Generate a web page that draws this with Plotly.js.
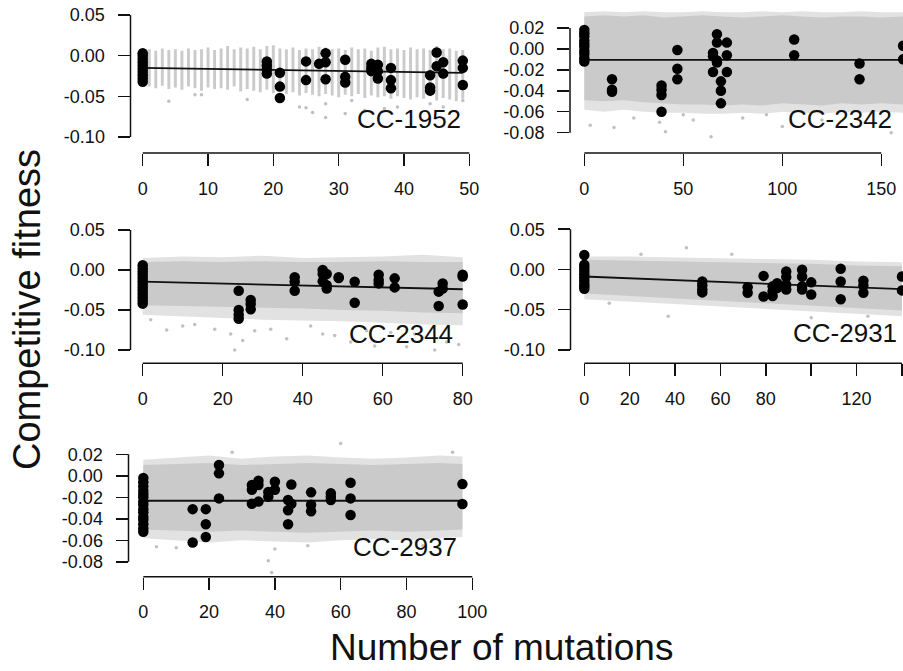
<!DOCTYPE html>
<html><head><meta charset="utf-8">
<script src="https://cdn.plot.ly/plotly-3.0.1.min.js"></script>
<style>html,body{margin:0;padding:0;background:#fff}#chart{width:903px;height:671px}</style>
</head><body><div id="chart"></div><script>
// ---------------- DATA ----------------
var panelNames = ["CC-1952", "CC-2342", "CC-2344", "CC-2931", "CC-2937"];

// CC-1952: simulated values appear as vertical strips at each integer mutation count
var s1X   = [1,2,3,4,5,6,7,8,9,10,11,12,13,14,15,16,17,18,19,20,21,22,23,24,25,26,27,28,29,30,31,32,33,34,35,36,37,38,39,40,41,42,43,44,45,46,47,48,49];
var s1Top = [0.008,0.006,0.009,0.007,0.008,0.006,0.009,0.007,0.008,0.010,0.007,0.009,0.012,0.008,0.010,0.009,0.011,0.008,0.012,0.013,0.009,0.008,0.010,0.007,0.009,0.008,0.011,0.010,0.008,0.009,0.007,0.010,0.008,0.009,0.006,0.010,0.011,0.008,0.009,0.007,0.010,0.008,0.009,0.007,0.012,0.008,0.009,0.006,0.007];
var s1Bot = [-0.038,-0.040,-0.037,-0.041,-0.039,-0.042,-0.038,-0.040,-0.043,-0.039,-0.041,-0.040,-0.042,-0.038,-0.044,-0.041,-0.043,-0.045,-0.042,-0.046,-0.044,-0.047,-0.045,-0.049,-0.046,-0.048,-0.050,-0.047,-0.049,-0.051,-0.048,-0.050,-0.047,-0.052,-0.049,-0.051,-0.050,-0.053,-0.050,-0.052,-0.054,-0.051,-0.053,-0.050,-0.055,-0.052,-0.054,-0.056,-0.053];
var o1X = [4,8,9,16,24,25,26,28,28,31,32,34,37,39,44,46,49];
var o1Y = [-0.056,-0.048,-0.048,-0.054,-0.063,-0.064,-0.070,-0.076,-0.059,-0.071,-0.055,-0.067,-0.065,-0.063,-0.059,-0.063,-0.055];

// CC-2342 simulated cloud envelope
var b2X        = [0,10,20,30,40,50,60,70,80,90,100,110,120,130,140,150,161];
var b2CoreTop  = [0.031,0.032,0.031,0.032,0.030,0.031,0.032,0.031,0.030,0.031,0.032,0.031,0.030,0.031,0.031,0.030,0.031];
var b2OuterTop = [0.035,0.036,0.035,0.036,0.035,0.035,0.036,0.035,0.035,0.036,0.035,0.036,0.035,0.035,0.036,0.035,0.035];
var b2CoreBot  = [-0.049,-0.050,-0.049,-0.051,-0.052,-0.053,-0.053,-0.054,-0.053,-0.054,-0.052,-0.053,-0.054,-0.052,-0.053,-0.052,-0.053];
var b2OuterBot = [-0.058,-0.060,-0.058,-0.060,-0.061,-0.061,-0.062,-0.062,-0.061,-0.062,-0.060,-0.061,-0.062,-0.060,-0.061,-0.060,-0.061];
var o2X = [3,15,25,38,41,50,55,64,80,92,100,120,155];
var o2Y = [-0.073,-0.075,-0.066,-0.070,-0.079,-0.063,-0.068,-0.084,-0.066,-0.063,-0.074,-0.068,-0.080];

// CC-2344 simulated cloud envelope
var b3X        = [0,10,20,30,40,50,60,70,80];
var b3CoreTop  = [0.010,0.011,0.010,0.011,0.010,0.010,0.011,0.010,0.010];
var b3OuterTop = [0.015,0.017,0.016,0.018,0.015,0.016,0.017,0.019,0.016];
var b3CoreBot  = [-0.044,-0.045,-0.046,-0.047,-0.048,-0.050,-0.051,-0.053,-0.054];
var b3OuterBot = [-0.056,-0.058,-0.060,-0.062,-0.063,-0.064,-0.066,-0.068,-0.069];
var o3X = [2,6,10,13,18,22,23,25,28,32,36,42,45,48,52,56,58,62,66,68,70,73,76,79];
var o3Y = [-0.062,-0.075,-0.070,-0.068,-0.074,-0.080,-0.100,-0.088,-0.076,-0.074,-0.086,-0.070,-0.080,-0.082,-0.090,-0.076,-0.095,-0.078,-0.096,-0.080,-0.085,-0.100,-0.090,-0.093];

// CC-2931 simulated cloud envelope
var b4X        = [0,20,40,60,80,100,120,140];
var b4CoreTop  = [0.012,0.011,0.010,0.009,0.008,0.007,0.005,0.004];
var b4OuterTop = [0.016,0.016,0.015,0.014,0.013,0.012,0.010,0.009];
var b4CoreBot  = [-0.030,-0.033,-0.036,-0.039,-0.042,-0.045,-0.048,-0.051];
var b4OuterBot = [-0.037,-0.040,-0.043,-0.046,-0.049,-0.052,-0.055,-0.058];
var o4X = [11,25,37,45,65,100,125];
var o4Y = [-0.042,0.019,-0.058,0.027,0.019,-0.060,-0.058];

// CC-2937 simulated cloud envelope
var b5X        = [0,10,20,30,40,50,60,70,80,90,97];
var b5CoreTop  = [0.010,0.011,0.012,0.010,0.011,0.012,0.011,0.010,0.011,0.012,0.011];
var b5OuterTop = [0.015,0.017,0.019,0.016,0.018,0.019,0.017,0.016,0.017,0.019,0.018];
var b5CoreBot  = [-0.050,-0.051,-0.052,-0.051,-0.052,-0.053,-0.052,-0.051,-0.052,-0.051,-0.050];
var b5OuterBot = [-0.058,-0.060,-0.062,-0.060,-0.061,-0.062,-0.060,-0.059,-0.060,-0.058,-0.057];
var o5X = [4,10,27,38,39,40,50,60,85,94];
var o5Y = [-0.066,-0.067,0.022,-0.079,-0.090,-0.068,-0.065,0.030,-0.065,0.022];

// Observed lines (black points)
var p1X = [0,0,0,0,0,0,0,0,0,0, 19,19,19,19, 21,21,21, 25,25, 27, 28,28,28, 31,31,31, 35,35,35, 36,36,36, 38,38,38, 44,44,44, 45,45, 46,46, 49,49,49];
var p1Y = [0.003,0.000,-0.004,-0.008,-0.012,-0.016,-0.020,-0.024,-0.028,-0.032, -0.007,-0.012,-0.017,-0.022, -0.021,-0.038,-0.052, -0.007,-0.030, -0.010, 0.003,-0.008,-0.029, -0.005,-0.026,-0.033, -0.010,-0.015,-0.019, -0.011,-0.019,-0.028, -0.015,-0.030,-0.040, -0.024,-0.039,-0.043, 0.004,-0.013, -0.008,-0.022, -0.006,-0.015,-0.036];

var p2X = [0,0,0,0,0,0,0,0,0,0, 14,14,14, 39,39,39,39, 47,47,47, 65,65,65, 67,67,67,67, 69,69,69, 72,72,72, 106,106, 139,139, 161,161];
var p2Y = [0.018,0.015,0.012,0.008,0.005,0.002,-0.002,-0.005,-0.009,-0.012, -0.029,-0.039,-0.041, -0.035,-0.039,-0.044,-0.060, -0.001,-0.019,-0.029, -0.004,-0.007,-0.022, 0.014,0.006,-0.011,-0.013, -0.031,-0.040,-0.052, 0.006,-0.006,-0.022, 0.009,-0.006, -0.014,-0.029, 0.003,-0.010];

var p3X = [0,0,0,0,0,0,0,0,0,0,0,0,0, 24,24,24,24, 27,27,27, 38,38,38, 45,45,45, 46,46,46, 49,49, 53,53, 59,59,59, 63,63, 74,74, 75,75, 80,80,80];
var p3Y = [0.006,0.002,-0.002,-0.006,-0.010,-0.014,-0.018,-0.022,-0.026,-0.030,-0.034,-0.038,-0.042, -0.026,-0.050,-0.056,-0.061, -0.0375,-0.0425,-0.049, -0.009,-0.0146,-0.026, 0.000,-0.005,-0.014, -0.005,-0.019,-0.023, -0.009,-0.010, -0.0146,-0.041, -0.006,-0.0125,-0.0167, -0.0104,-0.0217, -0.027,-0.045, -0.0167,-0.023, -0.006,-0.008,-0.043];

var p4X = [0,0,0,0,0,0,0,0,0,0, 52,52,52,52, 72,72, 79,79, 83,83,83, 85,85, 89,89,89,89, 96,96,96,96, 100,100, 113,113,113, 123,123,123, 140,140];
var p4Y = [0.018,0.006,0.002,-0.002,-0.006,-0.010,-0.014,-0.018,-0.021,-0.024, -0.015,-0.020,-0.025,-0.0285, -0.022,-0.029, -0.008,-0.0335, -0.021,-0.027,-0.033, -0.017,-0.023, -0.0025,-0.0095,-0.019,-0.025, -0.0004,-0.0087,-0.021,-0.025, -0.016,-0.031, 0.001,-0.015,-0.037, -0.014,-0.020,-0.029, -0.0087,-0.026];

var p5X = [0,0,0,0,0,0,0,0,0,0,0,0,0,0,0, 15,15, 19,19,19, 23,23,23, 33,33,33, 35,35,35, 38,38, 40,40, 44,44,44, 45,45, 51,51,51, 57,57,57, 63,63,63, 97,97];
var p5Y = [-0.002,-0.006,-0.010,-0.014,-0.017,-0.020,-0.024,-0.027,-0.031,-0.034,-0.038,-0.041,-0.045,-0.049,-0.052, -0.031,-0.062, -0.031,-0.045,-0.057, 0.010,0.0023,-0.021, -0.0086,-0.013,-0.026, -0.0045,-0.0086,-0.024, -0.015,-0.0194, -0.0055,-0.013, -0.0225,-0.032,-0.045, -0.008,-0.026, -0.0154,-0.027,-0.033, -0.0163,-0.0194,-0.0225, -0.0064,-0.021,-0.0365, -0.0077,-0.0263];

// Regression line endpoints
var f1X = [0,49],  f1Y = [-0.015,-0.021];
var f2X = [0,161], f2Y = [-0.0105,-0.0105];
var f3X = [0,80],  f3Y = [-0.0146,-0.024];
var f4X = [0,140], f4Y = [-0.0087,-0.0244];
var f5X = [0,97],  f5Y = [-0.0232,-0.0232];

// Tick values / labels
var xt1 = [0,10,20,30,40,50],            xl1 = ["0","10","20","30","40","50"];
var xt2 = [0,50,100,150],                xl2 = ["0","50","100","150"];
var xt3 = [0,20,40,60,80],               xl3 = ["0","20","40","60","80"];
var xt4 = [0,20,40,60,80,100,120,140],   xl4 = ["0","20","40","60","80","","120",""];
var xt5 = [0,20,40,60,80,100],           xl5 = ["0","20","40","60","80","100"];
var ytA = [0.05,0,-0.05,-0.10],          ylA = ["0.05","0.00","-0.05","-0.10"];
var ytB = [0.02,0,-0.02,-0.04,-0.06,-0.08], ylB = ["0.02","0.00","-0.02","-0.04","-0.06","-0.08"];

// ---------------- LAYOUT HELPERS ----------------
var W = 903, H = 671;
var FONT = "Liberation Sans, Arial, Helvetica, sans-serif";
function px(v){ return v / W; }
function py(v){ return 1 - v / H; }

var GREY = "#cacaca", GREY_OUT = "#e2e2e2", GREY_PT = "#c0c0c0";

var traces = [];
function band(ax, ay, xs, top, bot, color){
  var xx = xs.concat(xs.slice().reverse());
  var yy = top.concat(bot.slice().reverse());
  traces.push({type:"scatter", mode:"lines", x:xx, y:yy, fill:"toself", fillcolor:color,
    line:{width:0, color:color}, xaxis:ax, yaxis:ay, hoverinfo:"skip"});
}
function outl(ax, ay, xs, ys){
  traces.push({type:"scatter", mode:"markers", x:xs, y:ys, xaxis:ax, yaxis:ay,
    marker:{size:3.5, color:GREY_PT}, hoverinfo:"skip"});
}
function fit(ax, ay, xs, ys){
  traces.push({type:"scatter", mode:"lines", x:xs, y:ys, xaxis:ax, yaxis:ay,
    line:{color:"#111", width:1.8}, hoverinfo:"skip"});
}
function pts(ax, ay, xs, ys){
  traces.push({type:"scatter", mode:"markers", x:xs, y:ys, xaxis:ax, yaxis:ay,
    marker:{size:10.5, color:"#000"}, cliponaxis:true});
}

// Panel 1 strips
traces.push({type:"bar", x:s1X, base:s1Bot, y:s1Top.map(function(t,i){return t - s1Bot[i];}),
  width:0.45, marker:{color:"#cbcbcb", line:{width:0}}, xaxis:"x", yaxis:"y", hoverinfo:"skip"});
outl("x","y",o1X,o1Y); fit("x","y",f1X,f1Y); pts("x","y",p1X,p1Y);

band("x2","y2",b2X,b2OuterTop,b2OuterBot,GREY_OUT); band("x2","y2",b2X,b2CoreTop,b2CoreBot,GREY);
outl("x2","y2",o2X,o2Y); fit("x2","y2",f2X,f2Y); pts("x2","y2",p2X,p2Y);

band("x3","y3",b3X,b3OuterTop,b3OuterBot,GREY_OUT); band("x3","y3",b3X,b3CoreTop,b3CoreBot,GREY);
outl("x3","y3",o3X,o3Y); fit("x3","y3",f3X,f3Y); pts("x3","y3",p3X,p3Y);

band("x4","y4",b4X,b4OuterTop,b4OuterBot,GREY_OUT); band("x4","y4",b4X,b4CoreTop,b4CoreBot,GREY);
outl("x4","y4",o4X,o4Y); fit("x4","y4",f4X,f4Y); pts("x4","y4",p4X,p4Y);

band("x5","y5",b5X,b5OuterTop,b5OuterBot,GREY_OUT); band("x5","y5",b5X,b5CoreTop,b5CoreBot,GREY);
outl("x5","y5",o5X,o5Y); fit("x5","y5",f5X,f5Y); pts("x5","y5",p5X,p5Y);

// panel geometry in pixels: [xLeft, xRight], [yTop, yBottom], ranges
var panels = [
  {xd:[130.5,482], yd:[5,153],     xr:[-1.87,51.94], yr:[-0.1197,0.0624], xt:xt1, xl:xl1, yt:ytA, yl:ylA},
  {xd:[570,903],   yd:[5,153],     xr:[-7.22,160.96], yr:[-0.0994,0.0419], xt:xt2, xl:xl2, yt:ytB, yl:ylB},
  {xd:[130.5,482], yd:[215,363.3], xr:[-3.05,84.83], yr:[-0.1166,0.0688], xt:xt3, xl:xl3, yt:ytA, yl:ylA},
  {xd:[570.5,903], yd:[215,363.3], xr:[-6.08,140.46], yr:[-0.1166,0.0677], xt:xt4, xl:xl4, yt:ytA, yl:ylA},
  {xd:[128.5,482], yd:[435,576.7], xr:[-4.5,102.95], yr:[-0.0939,0.038], xt:xt5, xl:xl5, yt:ytB, yl:ylB}
];

var layout = {
  width:W, height:H, margin:{l:0,r:0,t:0,b:0}, showlegend:false,
  paper_bgcolor:"#fff", plot_bgcolor:"rgba(0,0,0,0)",
  font:{family:FONT, color:"#111"}, barmode:"overlay",
  shapes:[], annotations:[]
};
var tickFont = {family:FONT, size:18, color:"#111"};
panels.forEach(function(p, i){
  var n = i === 0 ? "" : String(i+1);
  layout["xaxis"+n] = {domain:[px(p.xd[0]), px(p.xd[1])], range:p.xr, anchor:"y"+n,
    showline:false, zeroline:false, showgrid:false, ticks:"outside", ticklen:12, tickwidth:1.5, tickcolor:"#111",
    tickmode:"array", tickvals:p.xt, ticktext:p.xl, tickfont:tickFont, ticklabelstandoff:7, fixedrange:true};
  layout["yaxis"+n] = {domain:[py(p.yd[1]), py(p.yd[0])], range:p.yr, anchor:"x"+n,
    showline:false, zeroline:false, showgrid:false, ticks:"outside", ticklen:12, tickwidth:1.5, tickcolor:"#111",
    tickmode:"array", tickvals:p.yt, ticktext:p.yl, tickfont:tickFont, ticklabelstandoff:9, fixedrange:true};
  // R-style axis lines spanning first to last tick
  layout.shapes.push({type:"line", xref:"x"+n, yref:"y"+n+" domain", x0:p.xt[0], x1:p.xt[p.xt.length-1], y0:0, y1:0,
    line:{color:"#111", width:1.5}});
  layout.shapes.push({type:"line", xref:"x"+n+" domain", yref:"y"+n, x0:0, x1:0, y0:p.yt[p.yt.length-1], y1:p.yt[0],
    line:{color:"#111", width:1.5}});
});

// panel labels
var labelPos = [[463,119],[894,119],[455,334],[899,333],[459,547]];
panelNames.forEach(function(t,i){
  layout.annotations.push({text:t, xref:"paper", yref:"paper", x:px(labelPos[i][0]), y:py(labelPos[i][1]),
    xanchor:"right", yanchor:"middle", showarrow:false, font:{family:FONT, size:26, color:"#111"}});
});
layout.annotations.push({text:"Competitive fitness", xref:"paper", yref:"paper", x:px(27), y:py(310),
  xanchor:"center", yanchor:"middle", textangle:-90, showarrow:false, font:{family:FONT, size:38, color:"#111"}});
layout.annotations.push({text:"Number of mutations", xref:"paper", yref:"paper", x:px(501), y:py(647),
  xanchor:"center", yanchor:"middle", showarrow:false, font:{family:FONT, size:37, color:"#111"}});

Plotly.newPlot("chart", traces, layout, {staticPlot:true, displayModeBar:false});
</script></body></html>
